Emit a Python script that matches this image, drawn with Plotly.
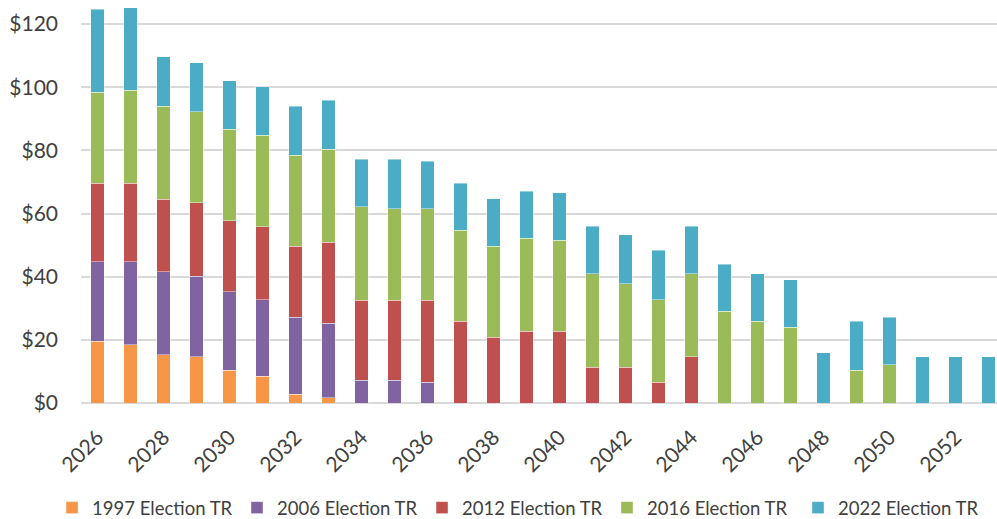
import plotly.graph_objects as go

years = [str(y) for y in range(2026, 2054)]
tick_years = [str(y) for y in range(2026, 2054, 2)]
y_ticks = [0, 20, 40, 60, 80, 100, 120]
y_tick_labels = ["$0", "$20", "$40", "$60", "$80", "$100", "$120"]

tr_1997 = [19.6, 18.5, 15.3, 14.6, 10.3, 8.4, 2.7, 1.6, 0, 0, 0, 0, 0, 0, 0, 0, 0, 0, 0, 0, 0, 0, 0, 0, 0, 0, 0, 0]
tr_2006 = [25.1, 26.2, 26.2, 25.6, 25.0, 24.3, 24.4, 23.6, 7.2, 7.2, 6.5, 0, 0, 0, 0, 0, 0, 0, 0, 0, 0, 0, 0, 0, 0, 0, 0, 0]
tr_2012 = [24.9, 24.9, 23.0, 23.2, 22.4, 23.1, 22.5, 25.7, 25.4, 25.4, 26.1, 25.9, 20.8, 22.7, 22.7, 11.4, 11.4, 6.5, 14.6, 0, 0, 0, 0, 0, 0, 0, 0, 0]
tr_2016 = [28.8, 29.4, 29.5, 28.8, 28.9, 28.9, 28.8, 29.4, 29.5, 28.9, 28.9, 28.8, 28.8, 29.5, 28.8, 29.6, 26.4, 26.2, 26.4, 29.0, 25.9, 24.0, 0, 10.3, 12.1, 0, 0, 0]
tr_2022 = [26.2, 26.2, 15.6, 15.5, 15.5, 15.5, 15.6, 15.6, 15.0, 15.6, 15.0, 14.9, 15.0, 14.9, 15.0, 14.9, 15.5, 15.7, 14.9, 15.0, 15.0, 15.0, 15.9, 15.6, 15.0, 14.7, 14.7, 14.7]

series = [
    ("1997 Election TR", tr_1997, "#F79646"),
    ("2006 Election TR", tr_2006, "#8064A2"),
    ("2012 Election TR", tr_2012, "#C0504D"),
    ("2016 Election TR", tr_2016, "#9BBB59"),
    ("2022 Election TR", tr_2022, "#4BACC6"),
]

font_family = "Lato, 'Open Sans', sans-serif"
text_color = "#404040"

# one legend box per series so the row is laid out like the original
legend_x = [0.0522, 0.2377, 0.4233, 0.6088, 0.8004]
legend_names = ["legend", "legend2", "legend3", "legend4", "legend5"]

fig = go.Figure()
for (name, vals, color), lg in zip(series, legend_names):
    fig.add_trace(go.Bar(
        x=years, y=vals, name=name, legend=lg,
        marker=dict(color=color, line=dict(color="rgba(255,255,255,0.6)", width=0.7)),
        hoverinfo="skip",
    ))

legend_layout = {}
for lg, lx in zip(legend_names, legend_x):
    legend_layout[lg] = dict(
        orientation="h", xref="container", yref="container",
        x=lx, xanchor="left", y=0.021, yanchor="middle",
        font=dict(size=18.5, color=text_color),
        bgcolor="rgba(0,0,0,0)",
        itemwidth=30,
    )

fig.update_layout(
    barmode="stack",
    bargap=0.585,
    width=997, height=519,
    margin=dict(l=81, r=0, t=0, b=116, autoexpand=False),
    plot_bgcolor="white", paper_bgcolor="white",
    font=dict(family=font_family, color=text_color, size=19),
    showlegend=True,
    xaxis=dict(
        type="category",
        range=[-0.5, 27.26],
        tickmode="array", tickvals=tick_years, ticktext=tick_years,
        tickangle=-45,
        showgrid=False, showline=False, ticks="",
        ticklabelstandoff=17,
        tickfont=dict(size=21, color=text_color),
    ),
    yaxis=dict(
        range=[0, 127.6],
        tickmode="array", tickvals=y_ticks, ticktext=y_tick_labels,
        showgrid=True, gridcolor="#D9D9D9", gridwidth=1.5,
        zeroline=True, zerolinecolor="#D9D9D9", zerolinewidth=1.5,
        showline=False, ticks="",
        ticklabelstandoff=22,
        tickfont=dict(size=21, color=text_color),
    ),
    **legend_layout,
)

fig.write_html("out.html")
